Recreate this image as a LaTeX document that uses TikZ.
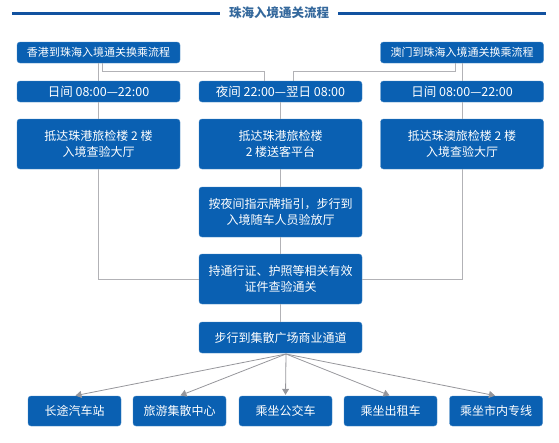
\documentclass[tikz,border=0pt]{standalone}
\usepackage{fontspec}
\setmainfont{Noto Sans CJK SC}
\usetikzlibrary{arrows.meta}
\definecolor{boxblue}{RGB}{10,96,178}
\definecolor{titleblue}{RGB}{18,82,160}
\definecolor{titletext}{RGB}{52,104,156}
\definecolor{linkgray}{RGB}{178,178,182}
\definecolor{tipgray}{RGB}{150,150,155}
\begin{document}
\begin{tikzpicture}[x=1pt,y=-1pt,
  box/.style={draw=boxblue!75!white,fill=boxblue,rounded corners=3pt,text=white,align=center,inner sep=0pt,minimum width=163pt},
  small/.style={box,minimum height=21pt,font=\fontsize{11}{13}\selectfont},
  time/.style={small,font=\fontsize{12.5}{14}\selectfont},
  tall/.style={box,minimum height=50pt,font=\fontsize{12}{16}\selectfont},
  leaf/.style={box,minimum width=93pt,minimum height=30pt,font=\fontsize{12}{14}\selectfont},
  link/.style={linkgray,line width=0.9pt},
  go/.style={tipgray,line width=0.8pt,-{Triangle[width=7pt,length=6pt]}}]
\useasboundingbox (0,0) rectangle (559,442);
% title
\node[font=\fontsize{12.5}{14}\selectfont\bfseries,text=titletext,inner sep=9pt] (title) at (279,13) {珠海入境通关流程};
\coordinate (tl) at (12,13.5);
\coordinate (tr) at (546,13.5);
\draw[titleblue,line width=2.5pt] (tl) -- (tl -| title.west);
\draw[titleblue,line width=2.5pt] (tr -| title.east) -- (tr);
% top row
\node[small] (hk) at (98.5,52.5) {香港到珠海入境通关换乘流程};
\node[small] (mo) at (462,52.5) {澳门到珠海入境通关换乘流程};
\node[time] (dayl) at (98.5,91.5) {日间 08:00—22:00};
\node[time] (night) at (280.5,91.5) {夜间 22:00—翌日 08:00};
\node[time] (dayr) at (462,91.5) {日间 08:00—22:00};
\node[tall] (arrl) at (98.5,144) {抵达珠港旅检楼 2 楼\\入境查验大厅};
\node[tall] (arrm) at (280.5,144) {抵达珠港旅检楼\\2 楼送客平台};
\node[tall] (arrr) at (462,144) {抵达珠澳旅检楼 2 楼\\入境查验大厅};
\node[tall] (guide) at (280.5,212) {按夜间指示牌指引，步行到\\入境随车人员验放厅};
\node[tall] (check) at (280.5,279) {持通行证、护照等相关有效\\证件查验通关};
\node[small,minimum height=31pt,font=\fontsize{12}{14}\selectfont] (walk) at (280.5,337.5) {步行到集散广场商业通道};
% bottom row
\node[leaf] (coach) at (74.5,411) {长途汽车站};
\node[leaf] (hub) at (179.5,411) {旅游集散中心};
\node[leaf] (bus) at (285.5,411) {乘坐公交车};
\node[leaf] (taxi) at (390.5,411) {乘坐出租车};
\node[leaf] (line) at (496,411) {乘坐市内专线};
% links
\draw[link] (hk) -- (dayl);
\draw[link] ([xshift=3.5pt]hk.south) -- ++(0,8) -| ([xshift=-16.5pt]night.north);
\draw[link] ([xshift=-7pt]mo.south) -- ++(0,8) -| ([xshift=12.5pt]night.north);
\draw[link] (mo) -- (dayr);
\draw[link] (dayl) -- (arrl);
\draw[link] (night) -- (arrm);
\draw[link] (dayr) -- (arrr);
\draw[link] (arrm) -- (guide);
\draw[link] (guide) -- (check);
\draw[link] (check) -- (walk);
\draw[link] (arrl.south) |- (check.west);
\draw[link] (arrr.south) |- (check.east);
\coordinate (fan) at (286,354);
\foreach \n in {coach,hub,bus,taxi,line}
  \draw[go,shorten >=1pt] (fan) -- (\n.north);
\end{tikzpicture}
\end{document}
